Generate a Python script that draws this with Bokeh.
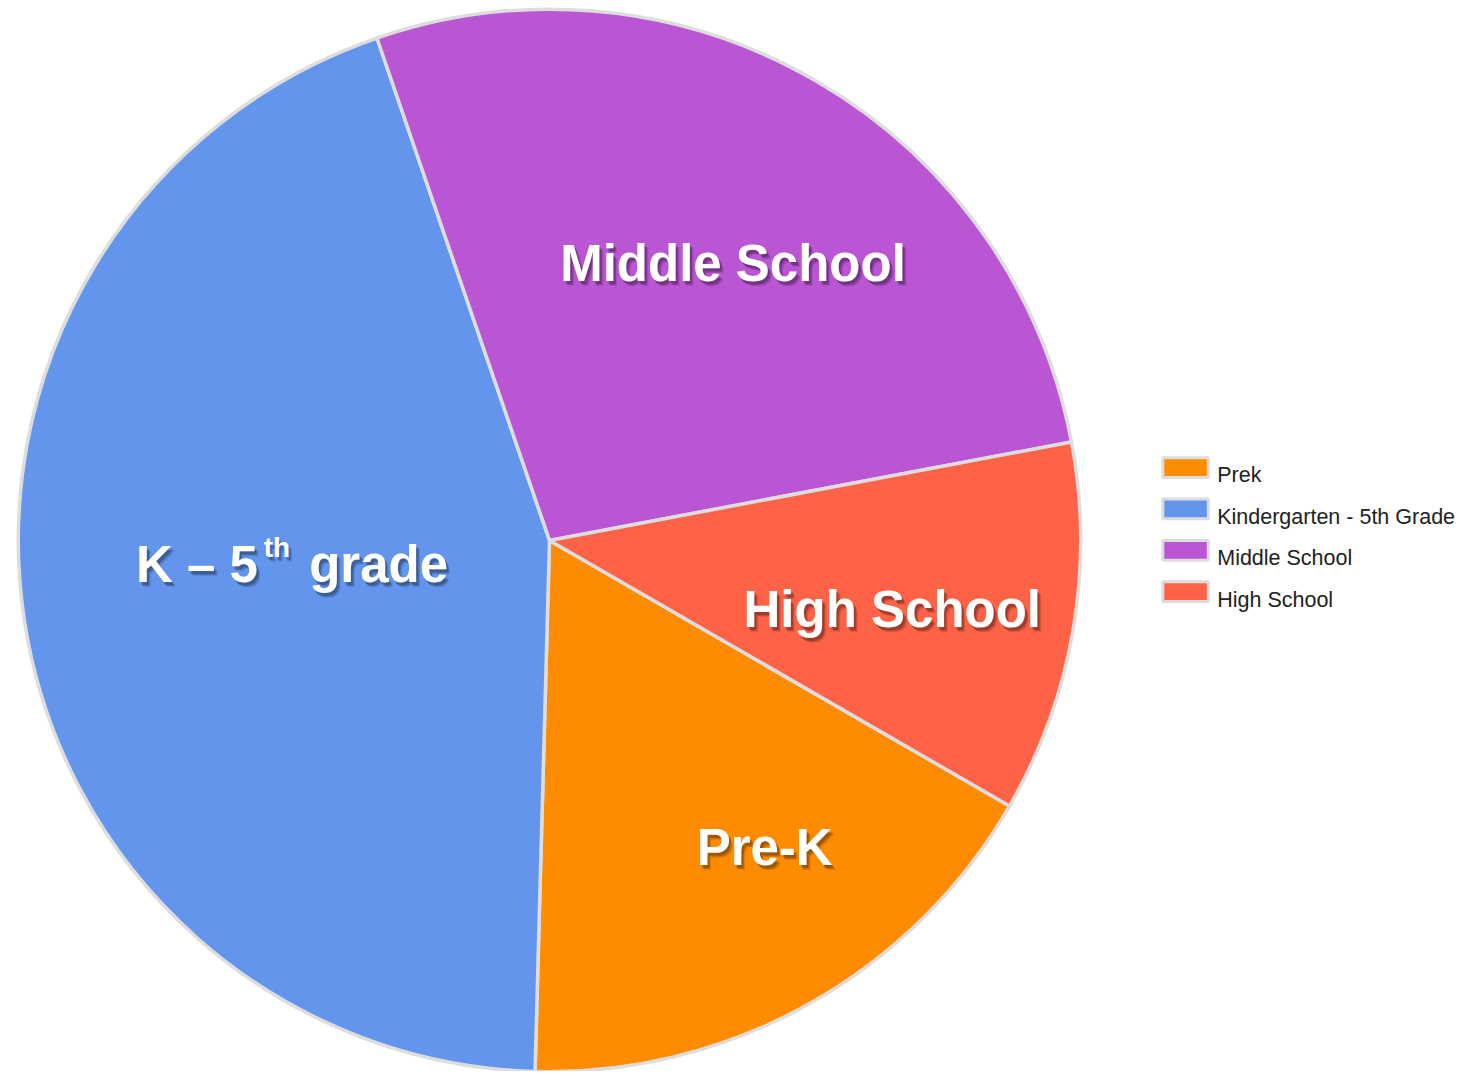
import numpy as np
from bokeh.plotting import figure
from bokeh.models import Range1d, ColumnDataSource
from bokeh.core.properties import value
from bokeh.embed import file_html
from bokeh.resources import INLINE

# ---------------- data ----------------
categories = ["Prek", "Kindergarten - 5th Grade", "Middle School", "High School"]
shares = [17.1, 44.3, 27.3, 11.3]
colors = ["#FF8C00", "#6495ED", "#BA55D3", "#FF6347"]

# ---------------- layout / style ----------------
W, H = 1466, 1071
REF_W, REF_H = 1482, 1087
def Y(y_img):
    return REF_H - y_img

cx, cy = 555, Y(548)
radius = 537
start_deg = -30.0          # first slice starts here and runs clockwise
border = "#dddddd"
FONT = value("Liberation Sans")

p = figure(width=W, height=H, output_backend="svg", toolbar_location=None,
           x_range=Range1d(0, REF_W), y_range=Range1d(0, REF_H),
           min_border=0, outline_line_color=None, background_fill_color="white",
           border_fill_color="white")
p.axis.visible = False
p.grid.visible = False

# pie slices (clockwise from start_deg)
fr = np.array(shares) / np.sum(shares)
cum = np.cumsum(fr)
prev = np.concatenate([[0.0], cum[:-1]])
off = np.deg2rad(start_deg)
src = ColumnDataSource(dict(
    cat=categories, color=colors,
    start=off - cum * 2 * np.pi,
    end=off - prev * 2 * np.pi,
))
p.wedge(x=cx, y=cy, radius=radius, start_angle="start", end_angle="end",
        direction="anticlock", fill_color="color", line_color=border,
        line_width=3.5, source=src)

# slice labels (white bold with soft drop shadow)
def label(txt, x, y_img, size="51px", align="center"):
    for dx, dy, a in [(4, 5, 0.10), (3, 4, 0.15), (2, 3, 0.18)]:
        p.text(x=[x + dx], y=[Y(y_img) - dy], text=[txt], text_color="black",
               text_alpha=a, text_font=FONT, text_font_style="bold",
               text_font_size=size, text_align=align, text_baseline="alphabetic")
    p.text(x=[x], y=[Y(y_img)], text=[txt], text_color="white",
           text_font=FONT, text_font_style="bold", text_font_size=size,
           text_align=align, text_baseline="alphabetic")

label("Middle School", 740.5, 267)
label("High School", 901.5, 618)
label("Pre-K", 772.5, 860)
label("K – 5", 137, 572, align="left")
label("th", 266, 555, size="28px", align="left")
label("grade", 312, 572, align="left")

# legend
leg_y = [474 + 42 * i for i in range(len(categories))]
p.rect(x=[1198] * len(categories), y=[Y(v) for v in leg_y], width=46, height=20,
       fill_color=colors, line_color="#dcdcdc", line_width=3)
p.text(x=[1230] * len(categories), y=[Y(v + 8) for v in leg_y], text=categories,
       text_color="#222222", text_font=FONT, text_font_size="21.5px",
       text_align="left", text_baseline="alphabetic")

open("out.html", "w").write(file_html(p, INLINE))
